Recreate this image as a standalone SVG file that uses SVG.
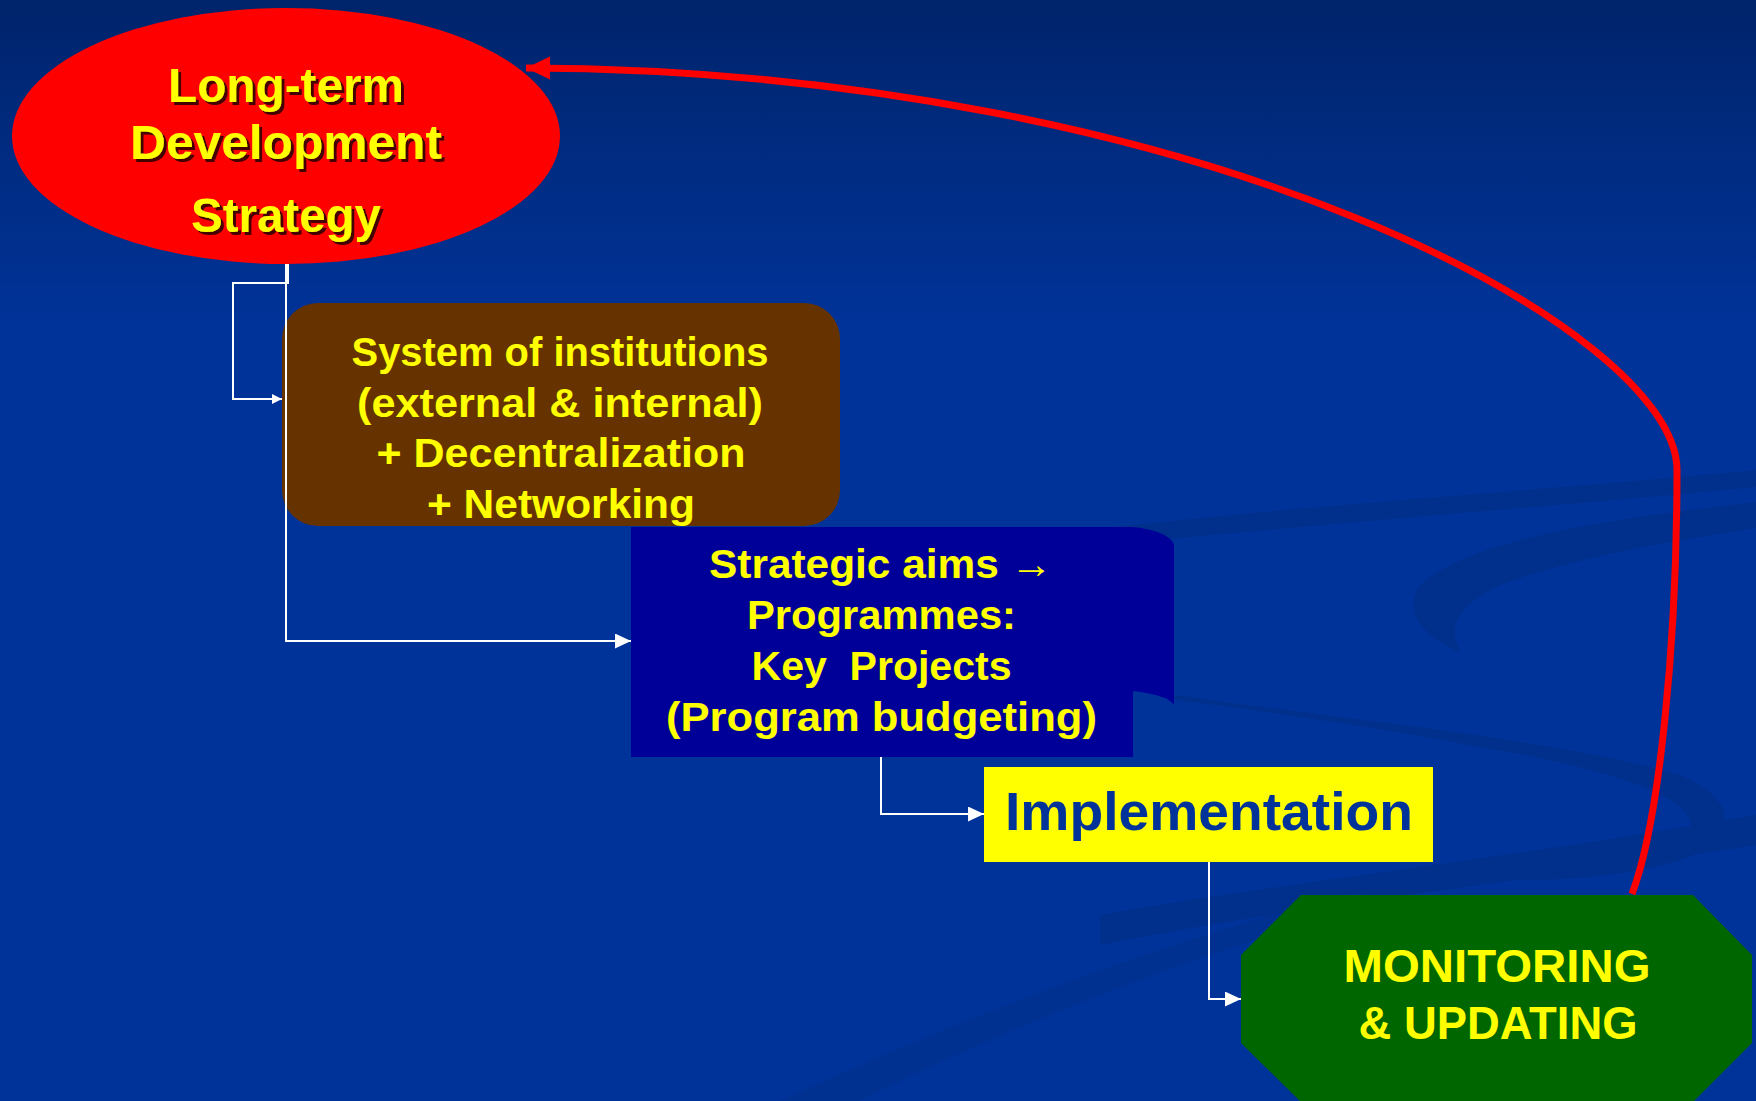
<svg xmlns="http://www.w3.org/2000/svg" width="1756" height="1101" viewBox="0 0 1756 1101">
<defs>
<linearGradient id="bg" x1="0" y1="0" x2="0" y2="1">
<stop offset="0" stop-color="#00246b"/>
<stop offset="0.3" stop-color="#003399"/>
<stop offset="1" stop-color="#003399"/>
</linearGradient>
<filter id="shadow" x="-10%" y="-10%" width="130%" height="140%">
<feDropShadow dx="3" dy="3" stdDeviation="0.6" flood-color="#300000" flood-opacity="0.9"/>
</filter>
<marker id="arrS" markerUnits="userSpaceOnUse" markerWidth="12" markerHeight="12" refX="10" refY="5" orient="auto">
<path d="M0,0 L10,5 L0,10 Z" fill="#ffffff"/>
</marker>
<marker id="arrL" markerUnits="userSpaceOnUse" markerWidth="18" markerHeight="18" refX="16" refY="7.5" orient="auto">
<path d="M0,0 L16,7.5 L0,15 Z" fill="#ffffff"/>
</marker>
<marker id="arrR" markerUnits="userSpaceOnUse" markerWidth="26" markerHeight="26" refX="24" refY="11.5" orient="auto">
<path d="M0,0 L24,11.5 L0,23 Z" fill="#ff0000"/>
</marker>
</defs>
<style>
.t{font-family:"Liberation Sans",Arial,sans-serif;font-weight:bold;text-anchor:middle;fill:#ffff00}
.conn{fill:none;stroke:#ffffff;stroke-width:2}
.swirl{fill:#00308c}
</style>
<rect width="1756" height="1101" fill="url(#bg)"/>
<g id="background">
<path class="swirl" d="M1100,529 C1300,505 1550,490 1756,470 L1756,487 C1550,507 1300,525 1100,546 Z"/>
<path class="swirl" d="M1756,502 C1600,520 1470,540 1420,585 C1400,615 1430,640 1460,652 C1450,630 1450,610 1500,585 C1580,555 1680,540 1756,528 Z"/>
<path class="swirl" d="M1175,695 C1350,720 1560,740 1680,775 C1740,800 1740,840 1680,860 C1600,885 1500,880 1443,880 C1520,870 1650,860 1690,830 C1700,800 1620,775 1540,758 C1420,735 1300,715 1175,700 Z"/>
<path class="swirl" d="M1100,915 C1300,880 1500,860 1756,815 L1756,845 C1500,885 1300,905 1100,945 Z"/>
<path class="swirl" d="M780,1101 C1000,1000 1200,930 1400,880 L1420,890 C1200,950 1000,1030 860,1101 Z" opacity="0.6"/>
</g>
<g id="connectors">
<path class="conn" d="M288,264 V283 H233 V399 H282" marker-end="url(#arrS)"/>
<path class="conn" d="M286,264 V641 H631" marker-end="url(#arrL)"/>
<path class="conn" d="M881,757 V814 H984" marker-end="url(#arrL)"/>
<path class="conn" d="M1209,862 V999 H1241" marker-end="url(#arrL)"/>
<path d="M1632,894 C1660,820 1677,640 1677,470 C1677,330 1200,70 526,68" fill="none" stroke="#ff0000" stroke-width="7" marker-end="url(#arrR)"/>
</g>
<g id="node-strategy">
<ellipse cx="286" cy="136" rx="274" ry="128" fill="#ff0000"/>
<g filter="url(#shadow)">
<text class="t" x="286" y="102" font-size="48" textLength="236" lengthAdjust="spacingAndGlyphs">Long-term</text>
<text class="t" x="286" y="159" font-size="48" textLength="312" lengthAdjust="spacingAndGlyphs">Development</text>
<text class="t" x="286" y="232" font-size="48" textLength="190" lengthAdjust="spacingAndGlyphs">Strategy</text>
</g>
</g>
<g id="node-institutions">
<rect x="282" y="303" width="558" height="223" rx="36" ry="36" fill="#663300"/>
<text class="t" x="560" y="366" font-size="41" textLength="417" lengthAdjust="spacingAndGlyphs">System of institutions</text>
<text class="t" x="560" y="417" font-size="41" textLength="406" lengthAdjust="spacingAndGlyphs">(external &amp; internal)</text>
<text class="t" x="561" y="467" font-size="41" textLength="369" lengthAdjust="spacingAndGlyphs">+ Decentralization</text>
<text class="t" x="561" y="518" font-size="41" textLength="268" lengthAdjust="spacingAndGlyphs">+ Networking</text>
</g>
<path d="M286,303 V526" class="conn"/>
<g id="node-aims">
<path d="M631,527 L1133,527 C1155,529 1172,536 1174,545 L1174,705 C1170,697 1150,693 1133,691 L1133,757 L631,757 Z" fill="#000099"/>
<text class="t" x="881" y="578" font-size="41" textLength="344" lengthAdjust="spacingAndGlyphs">Strategic aims →</text>
<text class="t" x="881.5" y="629" font-size="41" textLength="269" lengthAdjust="spacingAndGlyphs">Programmes:</text>
<text class="t" x="881.5" y="680" font-size="41" textLength="260" lengthAdjust="spacingAndGlyphs" xml:space="preserve" style="white-space:pre">Key  Projects</text>
<text class="t" x="881.5" y="731" font-size="41" textLength="431" lengthAdjust="spacingAndGlyphs">(Program budgeting)</text>
</g>
<g id="node-implementation">
<rect x="984" y="767" width="449" height="95" fill="#ffff00"/>
<text class="t" x="1209" y="830" font-size="54" textLength="408" lengthAdjust="spacingAndGlyphs" style="fill:#003399">Implementation</text>
</g>
<g id="node-monitoring">
<polygon points="1301,895 1693,895 1752,955 1752,1043 1693,1102 1301,1102 1241,1043 1241,955" fill="#006600"/>
<text class="t" x="1497" y="982" font-size="46" textLength="307" lengthAdjust="spacingAndGlyphs">MONITORING</text>
<text class="t" x="1498" y="1039" font-size="46" textLength="279" lengthAdjust="spacingAndGlyphs">&amp; UPDATING</text>
</g>
</svg>
